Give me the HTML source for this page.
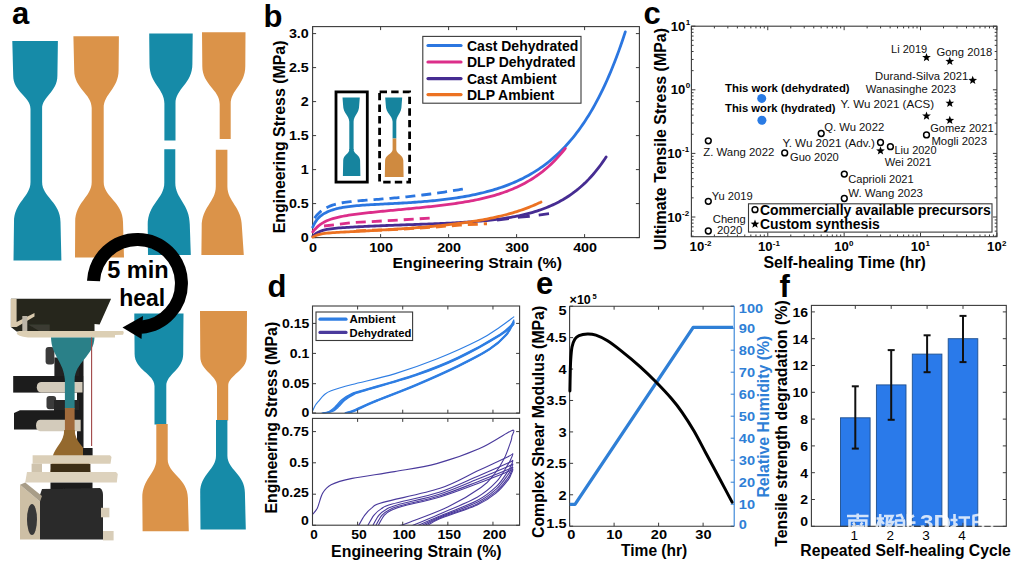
<!DOCTYPE html><html><head><meta charset="utf-8"><style>html,body{margin:0;padding:0;background:#fff;overflow:hidden}svg{display:block}</style></head><body>
<svg width="1018" height="570" viewBox="0 0 1018 570" font-family='"Liberation Sans", sans-serif'>
<defs><filter id="soft" x="-5%" y="-5%" width="110%" height="110%"><feGaussianBlur stdDeviation="0.45"/></filter></defs>
<rect width="1018" height="570" fill="#fff"/>
<text x="12.0" y="24.0" font-size="31" font-weight="bold" >a</text>
<g filter="url(#soft)">
<path d="M12.3,40.9 L57.9,40.9 L57.4,75.6 C57.4,92.30 42.1,96.31 42.1,109 L42.1,152 L30.5,152 L30.5,109 C30.5,96.31 13.2,92.30 13.2,75.6 Z M30.5,146 L42.1,146 L42.1,182 C42.1,197.20 60.5,202.00 60.5,222 L61.4,260.6 L13.5,260.6 L14,222 C14,202.00 30.5,197.20 30.5,182 Z" fill="#168ba8" />
<path d="M73.4,36.2 L118.9,36.2 L118.6,70 C118.6,89.00 103.7,93.56 103.7,108 L103.7,152 L91.7,152 L91.7,108 C91.7,93.56 74.2,89.00 74.2,70 Z M91.7,146 L103.7,146 L103.7,182 C103.7,197.20 123,202.00 123,222 L124,257.6 L75,257.6 L75.2,222 C75.2,202.00 91.7,197.20 91.7,182 Z" fill="#db9349" />
<path d="M149.2,33.5 L192.7,33.5 L192.4,64 C192.4,83.75 175.5,88.49 175.5,103.5 L175.5,140.4 L164.4,140.4 L164.4,103.5 C164.4,88.49 149.5,83.75 149.5,64 Z" fill="#168ba8" />
<path d="M164.3,149.3 L175.3,149.3 L175.3,182.8 C175.3,198.84 189.8,203.90 189.8,225 L190.8,255.1 L148,255.1 L147.7,225 C147.7,203.90 164.3,198.84 164.3,182.8 Z" fill="#168ba8" />
<path d="M202,32.3 L245.5,32.3 L245.3,66 C245.3,85.00 230.7,89.56 230.7,104 L230.7,139 L219.7,139 L219.7,104 C219.7,89.56 202.3,85.00 202.3,66 Z" fill="#db9349" />
<path d="M215.8,149.8 L227.4,149.8 L227.4,186.6 C227.4,201.95 241.9,206.80 241.9,227 L243.8,255.1 L201.4,255.1 L201.7,227 C201.7,206.80 215.8,201.95 215.8,186.6 Z" fill="#db9349" />
<path d="M134.3,313.5 L183.5,313.5 L183.2,354 C183.2,370.00 166.3,373.84 166.3,386 L166.3,424.5 L154.5,424.5 L154.5,386 C154.5,373.84 134.6,370.00 134.6,354 Z" fill="#168ba8" />
<path d="M156.3,424 L167.7,424 L167.7,459.3 C167.7,473.97 187.9,478.60 187.9,497.9 L188.8,531.2 L142.6,531.2 L142.3,497.9 C142.3,478.60 156.3,473.97 156.3,459.3 Z" fill="#db9349" />
<path d="M200,311 L247,311 L246.7,356.5 C246.7,371.25 228.2,374.79 228.2,386 L228.2,420.5 L217,420.5 L217,386 C217,374.79 200.3,371.25 200.3,356.5 Z" fill="#db9349" />
<path d="M216,420 L227.4,420 L227.4,455.8 C227.4,469.78 244.9,474.20 244.9,492.6 L245.8,529.5 L200.5,529.5 L200.2,492.6 C200.2,474.20 216,469.78 216,455.8 Z" fill="#168ba8" />
</g>
<g filter="url(#soft)">
<path d="M10.9,298.7 L111.1,298.7 L99.6,324.5 L94.5,324 L94.5,331.5 L16.6,331.5 L10.9,327 Z" fill="#25261d"/>
<path d="M10.9,298.7 L16.6,298.7 L16.6,322 L34.5,313 L34.5,316.5 L16.6,327 L10.9,327 Z" fill="#d8c9ad"/>
<rect x="22.3" y="316" width="5" height="15.5" fill="#bdb6a8"/>
<path d="M28,324.5 L49.8,324.5 L49.8,331.5 L40,331.5 Z" fill="#3a3a30"/>
<path d="M19,331.1 L123.2,331.1 Q124.5,333 123,334.7 L115,334.9 L115,337.5 L28,337.5 Q17,336 16.6,333 Z" fill="#dccfb4"/>
<rect x="77" y="352" width="6.5" height="104" fill="#1c1c1c"/>
<rect x="54.4" y="357.5" width="25" height="20" fill="#222"/>
<rect x="45.6" y="347" width="8.8" height="17.6" rx="3" fill="#3b3b3b"/>
<rect x="13.2" y="376" width="70" height="16.6" fill="#1c1c1c"/>
<path d="M41,382.1 L82.5,382.1 L82.5,392.6 L41,392.6 Q36.8,392 36.8,387.3 Q36.8,382.5 41,382.1 Z" fill="#d3cbbb"/>
<rect x="46.5" y="396" width="9.6" height="13.3" rx="3" fill="#3a3a3a"/>
<rect x="54" y="400" width="25" height="12" fill="#262626"/>
<path d="M14,413 L20,410.2 L83,410.2 L83,429.5 L14,429.5 Z" fill="#1c1c1c"/>
<path d="M40,419.8 L80.7,419.8 L80.7,431.2 L40,431.2 Q36,430.5 36,425.5 Q36,420.3 40,419.8 Z" fill="#d3cbbb"/>
<path d="M51,337.5 L94.5,337.5 C94,356 75,362 74.6,380 L74.6,409 L64.9,409 L64.9,380 C64,362 51.5,356 51,337.5 Z" fill="#2a8088"/>
<path d="M64.9,408 L74.6,408 L74.6,432 L64.9,432 Z" fill="#a06a3a"/>
<path d="M64.2,430 L74.7,430 C75,442 84,446 88.3,456.3 L90.4,472 L50.5,472 L52.6,456.3 C56,446 64,442 64.2,430 Z" fill="#94692e"/>
<path d="M50.5,463.7 L90.4,463.7 L90.4,472 L50.5,472 Z" fill="#3e2f16"/>
<rect x="83" y="448" width="9.6" height="8.3" fill="#1c1c1c"/>
<line x1="91.6" y1="337.5" x2="91.6" y2="446" stroke="#a04848" stroke-width="1.1"/>
<path d="M32.6,455.2 L110,455.2 L111.5,457 L110.5,463.7 L32.6,463.7 Z" fill="#dbcfb8"/>
<rect x="31.6" y="463.7" width="10.4" height="8.3" fill="#cfc3ad"/>
<path d="M27,472 L116,472 L117.8,474 L116.8,482.6 L25.2,482.6 Z" fill="#ddd2bd"/>
<rect x="50.5" y="482.6" width="42" height="8.4" fill="#1a1a1a"/>
<path d="M42,489 L100,488 Q103,490 103,495 L103,539.4 L40,539.4 L40,495 Z" fill="#2b2b2b"/>
<path d="M20,484.7 L40,501.5 L40,539.4 L20,539.4 Z" fill="#cdbfa5"/>
<path d="M20,484.7 L25.2,482.6 L42,496 L40,501.5 Z" fill="#a89d88"/>
<ellipse cx="32" cy="519.5" rx="5" ry="15.5" fill="#383838"/>
<rect x="101" y="507.8" width="8.4" height="9.5" fill="#d8cdb8"/>
<rect x="103" y="531" width="10.6" height="9.4" fill="#d8cdb8"/>
</g>
<path d="M93.5,281 A44,44 0 1 1 141,327.3" fill="none" stroke="#000" stroke-width="13"/>
<path d="M122.5,327.4 L143,316 L141.5,339 Z" fill="#000"/>
<text x="107.2" y="277.6" font-size="23" font-weight="bold" textLength="61.5" lengthAdjust="spacingAndGlyphs" >5 min</text>
<text x="119.2" y="306.0" font-size="23" font-weight="bold" textLength="46.0" lengthAdjust="spacingAndGlyphs" >heal</text>
<text x="263.6" y="27.0" font-size="31" font-weight="bold" >b</text>
<g>
<line x1="312.6" y1="237.60" x2="316.1" y2="237.60" stroke="#3a3a3a" stroke-width="1"/>
<line x1="639.4" y1="237.60" x2="635.9" y2="237.60" stroke="#3a3a3a" stroke-width="1"/>
<line x1="312.6" y1="203.60" x2="316.1" y2="203.60" stroke="#3a3a3a" stroke-width="1"/>
<line x1="639.4" y1="203.60" x2="635.9" y2="203.60" stroke="#3a3a3a" stroke-width="1"/>
<line x1="312.6" y1="169.60" x2="316.1" y2="169.60" stroke="#3a3a3a" stroke-width="1"/>
<line x1="639.4" y1="169.60" x2="635.9" y2="169.60" stroke="#3a3a3a" stroke-width="1"/>
<line x1="312.6" y1="135.60" x2="316.1" y2="135.60" stroke="#3a3a3a" stroke-width="1"/>
<line x1="639.4" y1="135.60" x2="635.9" y2="135.60" stroke="#3a3a3a" stroke-width="1"/>
<line x1="312.6" y1="101.60" x2="316.1" y2="101.60" stroke="#3a3a3a" stroke-width="1"/>
<line x1="639.4" y1="101.60" x2="635.9" y2="101.60" stroke="#3a3a3a" stroke-width="1"/>
<line x1="312.6" y1="67.60" x2="316.1" y2="67.60" stroke="#3a3a3a" stroke-width="1"/>
<line x1="639.4" y1="67.60" x2="635.9" y2="67.60" stroke="#3a3a3a" stroke-width="1"/>
<line x1="312.6" y1="33.60" x2="316.1" y2="33.60" stroke="#3a3a3a" stroke-width="1"/>
<line x1="639.4" y1="33.60" x2="635.9" y2="33.60" stroke="#3a3a3a" stroke-width="1"/>
<line x1="312.60" y1="237.6" x2="312.60" y2="234.1" stroke="#3a3a3a" stroke-width="1"/>
<line x1="312.60" y1="26.6" x2="312.60" y2="30.1" stroke="#3a3a3a" stroke-width="1"/>
<line x1="380.60" y1="237.6" x2="380.60" y2="234.1" stroke="#3a3a3a" stroke-width="1"/>
<line x1="380.60" y1="26.6" x2="380.60" y2="30.1" stroke="#3a3a3a" stroke-width="1"/>
<line x1="448.60" y1="237.6" x2="448.60" y2="234.1" stroke="#3a3a3a" stroke-width="1"/>
<line x1="448.60" y1="26.6" x2="448.60" y2="30.1" stroke="#3a3a3a" stroke-width="1"/>
<line x1="516.60" y1="237.6" x2="516.60" y2="234.1" stroke="#3a3a3a" stroke-width="1"/>
<line x1="516.60" y1="26.6" x2="516.60" y2="30.1" stroke="#3a3a3a" stroke-width="1"/>
<line x1="584.60" y1="237.6" x2="584.60" y2="234.1" stroke="#3a3a3a" stroke-width="1"/>
<line x1="584.60" y1="26.6" x2="584.60" y2="30.1" stroke="#3a3a3a" stroke-width="1"/>
<rect x="312.6" y="26.6" width="326.80" height="211.00" fill="none" stroke="#3a3a3a" stroke-width="1.1"/>
</g>
<text x="308.8" y="38.1" font-size="13" font-weight="bold" text-anchor="end" textLength="19.9" lengthAdjust="spacingAndGlyphs" >3.0</text>
<text x="308.8" y="72.1" font-size="13" font-weight="bold" text-anchor="end" textLength="19.9" lengthAdjust="spacingAndGlyphs" >2.5</text>
<text x="308.8" y="106.1" font-size="13" font-weight="bold" text-anchor="end" textLength="8.0" lengthAdjust="spacingAndGlyphs" >2</text>
<text x="308.8" y="140.1" font-size="13" font-weight="bold" text-anchor="end" textLength="19.9" lengthAdjust="spacingAndGlyphs" >1.5</text>
<text x="308.8" y="174.1" font-size="13" font-weight="bold" text-anchor="end" textLength="8.0" lengthAdjust="spacingAndGlyphs" >1</text>
<text x="308.8" y="208.1" font-size="13" font-weight="bold" text-anchor="end" textLength="19.9" lengthAdjust="spacingAndGlyphs" >0.5</text>
<text x="308.8" y="242.1" font-size="13" font-weight="bold" text-anchor="end" textLength="8.0" lengthAdjust="spacingAndGlyphs" >0</text>
<text x="313.1" y="251.8" font-size="13" font-weight="bold" text-anchor="middle" textLength="8.0" lengthAdjust="spacingAndGlyphs" >0</text>
<text x="381.1" y="251.8" font-size="13" font-weight="bold" text-anchor="middle" textLength="23.9" lengthAdjust="spacingAndGlyphs" >100</text>
<text x="449.1" y="251.8" font-size="13" font-weight="bold" text-anchor="middle" textLength="23.9" lengthAdjust="spacingAndGlyphs" >200</text>
<text x="517.1" y="251.8" font-size="13" font-weight="bold" text-anchor="middle" textLength="23.9" lengthAdjust="spacingAndGlyphs" >300</text>
<text x="585.1" y="251.8" font-size="13" font-weight="bold" text-anchor="middle" textLength="23.9" lengthAdjust="spacingAndGlyphs" >400</text>
<text x="392.5" y="268.0" font-size="15.5" font-weight="bold" textLength="169.4" lengthAdjust="spacingAndGlyphs" >Engineering Strain (%)</text>
<text x="285.0" y="233.3" font-size="15.8" font-weight="bold" textLength="192.8" lengthAdjust="spacingAndGlyphs" transform="rotate(-90 285.0 233.3)" >Engineering Stress (MPa)</text>
<polyline points="312.80,236.24 314.80,234.41 316.80,233.01 318.80,231.93 320.80,231.09 322.80,230.42 324.80,229.89 326.80,229.46 328.80,229.11 330.80,228.82 332.80,228.57 334.80,228.35 336.80,228.16 338.80,227.98 340.80,227.83 342.80,227.68 344.80,227.54 346.80,227.42 348.80,227.29 350.80,227.18 352.80,227.06 354.80,226.96 356.80,226.85 358.80,226.75 360.80,226.65 362.80,226.55 364.80,226.45 366.80,226.36 368.80,226.27 370.80,226.18 372.80,226.09 374.80,226.00 376.80,225.92 378.80,225.84 380.80,225.75 382.80,225.67 384.80,225.59 386.80,225.51 388.80,225.44 390.80,225.36 392.80,225.28 394.80,225.21 396.80,225.14 398.80,225.06 400.80,224.99 402.80,224.92 404.80,224.84 406.80,224.77 408.80,224.70 410.80,224.63 412.80,224.56 414.80,224.49 416.80,224.42 418.80,224.34 420.80,224.27 422.80,224.20 424.80,224.12 426.80,224.05 428.80,223.97 430.80,223.90 432.80,223.82 434.80,223.74 436.80,223.66 438.80,223.58 440.80,223.49 442.80,223.40 444.80,223.31 446.80,223.22 448.80,223.13 450.80,223.03 452.80,222.93 454.80,222.83 456.80,222.72 458.80,222.61 460.80,222.50 462.80,222.38 464.80,222.25 466.80,222.12 468.80,221.99 470.80,221.85 472.80,221.70 474.80,221.55 476.80,221.40 478.80,221.23 480.80,221.06 482.80,220.88 484.80,220.69 486.80,220.49 488.80,220.29 490.80,220.07 492.80,219.85 494.80,219.61 496.80,219.37 498.80,219.11 500.80,218.84 502.80,218.56 504.80,218.26 506.80,217.95 508.80,217.63 510.80,217.29 512.80,216.93 514.80,216.56 516.80,216.17 518.80,215.76 520.80,215.33 522.80,214.88 524.80,214.41 526.80,213.91 528.80,213.40 530.80,212.85 532.80,212.29 534.80,211.69 536.80,211.07 538.80,210.41 540.80,209.73 542.80,209.01 544.80,208.26 546.80,207.48 548.80,206.66 550.80,205.80 552.80,204.89 554.80,203.95 556.80,202.96 558.80,201.92 560.80,200.84 562.80,199.71 564.80,198.52 566.80,197.28 568.80,195.97 570.80,194.61 572.80,193.19 574.80,191.70 576.80,190.14 578.80,188.50 580.80,186.80 582.80,185.01 584.80,183.14 586.80,181.18 588.80,179.14 590.80,176.99 592.80,174.76 594.80,172.41 596.80,169.96 598.80,167.40 600.80,164.72 602.80,161.92 604.80,158.99 606.10,157.02" fill="none" stroke="#462c92" stroke-width="2.8" stroke-linecap="round" stroke-linejoin="round"/>
<polyline points="312.80,237.13 314.80,236.02 316.80,235.19 318.80,234.57 320.80,234.09 322.80,233.73 324.80,233.43 326.80,233.20 328.80,233.00 330.80,232.84 332.80,232.69 334.80,232.56 336.80,232.44 338.80,232.32 340.80,232.21 342.80,232.11 344.80,232.00 346.80,231.90 348.80,231.80 350.80,231.70 352.80,231.60 354.80,231.50 356.80,231.39 358.80,231.29 360.80,231.19 362.80,231.08 364.80,230.98 366.80,230.87 368.80,230.76 370.80,230.65 372.80,230.54 374.80,230.43 376.80,230.32 378.80,230.21 380.80,230.09 382.80,229.97 384.80,229.85 386.80,229.73 388.80,229.61 390.80,229.49 392.80,229.36 394.80,229.23 396.80,229.10 398.80,228.97 400.80,228.84 402.80,228.70 404.80,228.56 406.80,228.42 408.80,228.28 410.80,228.13 412.80,227.98 414.80,227.83 416.80,227.68 418.80,227.52 420.80,227.36 422.80,227.19 424.80,227.02 426.80,226.85 428.80,226.68 430.80,226.50 432.80,226.31 434.80,226.12 436.80,225.93 438.80,225.74 440.80,225.53 442.80,225.33 444.80,225.12 446.80,224.90 448.80,224.68 450.80,224.45 452.80,224.21 454.80,223.97 456.80,223.73 458.80,223.47 460.80,223.21 462.80,222.94 464.80,222.67 466.80,222.38 468.80,222.09 470.80,221.79 472.80,221.48 474.80,221.17 476.80,220.84 478.80,220.50 480.80,220.15 482.80,219.79 484.80,219.42 486.80,219.04 488.80,218.65 490.80,218.24 492.80,217.82 494.80,217.39 496.80,216.94 498.80,216.48 500.80,216.01 502.80,215.51 504.80,215.00 506.80,214.48 508.80,213.93 510.80,213.37 512.80,212.79 514.80,212.19 516.80,211.57 518.80,210.92 520.80,210.26 522.80,209.57 524.80,208.85 526.80,208.12 528.80,207.35 530.80,206.56 532.80,205.74 534.80,204.89 536.80,204.01 538.80,203.09 540.80,202.15 541.00,202.05" fill="none" stroke="#ec7222" stroke-width="2.8" stroke-linecap="round" stroke-linejoin="round"/>
<polyline points="312.80,227.00 314.80,222.87 316.80,219.87 318.80,217.60 320.80,215.81 322.80,214.37 324.80,213.16 326.80,212.14 328.80,211.26 330.80,210.50 332.80,209.83 334.80,209.24 336.80,208.71 338.80,208.24 340.80,207.83 342.80,207.46 344.80,207.12 346.80,206.82 348.80,206.55 350.80,206.30 352.80,206.08 354.80,205.88 356.80,205.69 358.80,205.52 360.80,205.36 362.80,205.21 364.80,205.07 366.80,204.94 368.80,204.82 370.80,204.70 372.80,204.59 374.80,204.48 376.80,204.38 378.80,204.28 380.80,204.17 382.80,204.07 384.80,203.97 386.80,203.87 388.80,203.77 390.80,203.67 392.80,203.57 394.80,203.46 396.80,203.36 398.80,203.25 400.80,203.14 402.80,203.02 404.80,202.90 406.80,202.78 408.80,202.66 410.80,202.53 412.80,202.39 414.80,202.26 416.80,202.11 418.80,201.96 420.80,201.81 422.80,201.65 424.80,201.48 426.80,201.31 428.80,201.13 430.80,200.95 432.80,200.76 434.80,200.56 436.80,200.35 438.80,200.14 440.80,199.92 442.80,199.69 444.80,199.45 446.80,199.20 448.80,198.94 450.80,198.67 452.80,198.40 454.80,198.11 456.80,197.81 458.80,197.50 460.80,197.18 462.80,196.84 464.80,196.50 466.80,196.14 468.80,195.77 470.80,195.38 472.80,194.98 474.80,194.56 476.80,194.13 478.80,193.68 480.80,193.22 482.80,192.74 484.80,192.24 486.80,191.72 488.80,191.19 490.80,190.63 492.80,190.05 494.80,189.46 496.80,188.84 498.80,188.19 500.80,187.53 502.80,186.84 504.80,186.12 506.80,185.38 508.80,184.61 510.80,183.81 512.80,182.99 514.80,182.13 516.80,181.24 518.80,180.32 520.80,179.37 522.80,178.38 524.80,177.35 526.80,176.29 528.80,175.19 530.80,174.05 532.80,172.87 534.80,171.64 536.80,170.37 538.80,169.06 540.80,167.70 542.80,166.28 544.80,164.82 546.80,163.30 548.80,161.73 550.80,160.10 552.80,158.42 554.80,156.67 556.80,154.86 558.80,152.98 560.80,151.04 562.80,149.02 564.80,146.93 566.80,144.77 568.80,142.53 570.80,140.21 572.80,137.80 574.80,135.31 576.80,132.73 578.80,130.05 580.80,127.28 582.80,124.41 584.80,121.43 586.80,118.35 588.80,115.16 590.80,111.85 592.80,108.42 594.80,104.87 596.80,101.19 598.80,97.38 600.80,93.44 602.80,89.35 604.80,85.11 606.80,80.72 608.80,76.18 610.80,71.47 612.80,66.59 614.80,61.53 616.80,56.29 618.80,50.87 620.80,45.25 622.80,39.43 624.80,33.40 625.30,31.87" fill="none" stroke="#2b76e0" stroke-width="2.8" stroke-linecap="round" stroke-linejoin="round"/>
<polyline points="312.80,231.93 314.80,229.48 316.80,227.41 318.80,225.66 320.80,224.16 322.80,222.89 324.80,221.78 326.80,220.83 328.80,220.00 330.80,219.27 332.80,218.63 334.80,218.05 336.80,217.54 338.80,217.07 340.80,216.64 342.80,216.25 344.80,215.89 346.80,215.55 348.80,215.24 350.80,214.94 352.80,214.65 354.80,214.38 356.80,214.12 358.80,213.87 360.80,213.62 362.80,213.38 364.80,213.15 366.80,212.93 368.80,212.71 370.80,212.49 372.80,212.28 374.80,212.07 376.80,211.86 378.80,211.66 380.80,211.46 382.80,211.26 384.80,211.06 386.80,210.87 388.80,210.67 390.80,210.48 392.80,210.29 394.80,210.10 396.80,209.91 398.80,209.72 400.80,209.52 402.80,209.33 404.80,209.14 406.80,208.95 408.80,208.76 410.80,208.57 412.80,208.37 414.80,208.18 416.80,207.98 418.80,207.78 420.80,207.58 422.80,207.37 424.80,207.17 426.80,206.96 428.80,206.75 430.80,206.53 432.80,206.31 434.80,206.09 436.80,205.86 438.80,205.63 440.80,205.39 442.80,205.15 444.80,204.90 446.80,204.64 448.80,204.38 450.80,204.11 452.80,203.84 454.80,203.55 456.80,203.26 458.80,202.96 460.80,202.65 462.80,202.33 464.80,201.99 466.80,201.65 468.80,201.30 470.80,200.93 472.80,200.55 474.80,200.16 476.80,199.75 478.80,199.32 480.80,198.89 482.80,198.43 484.80,197.96 486.80,197.46 488.80,196.95 490.80,196.42 492.80,195.87 494.80,195.30 496.80,194.70 498.80,194.08 500.80,193.43 502.80,192.75 504.80,192.05 506.80,191.32 508.80,190.56 510.80,189.76 512.80,188.94 514.80,188.07 516.80,187.17 518.80,186.24 520.80,185.26 522.80,184.24 524.80,183.18 526.80,182.07 528.80,180.91 530.80,179.71 532.80,178.45 534.80,177.14 536.80,175.77 538.80,174.34 540.80,172.85 542.80,171.30 544.80,169.67 546.80,167.98 548.80,166.22 550.80,164.38 552.80,162.45 554.80,160.45 556.80,158.36 558.80,156.17 560.80,153.90 562.80,151.52 564.80,149.04 565.30,148.41" fill="none" stroke="#dc2e8a" stroke-width="2.8" stroke-linecap="round" stroke-linejoin="round"/>
<polyline points="314.50,218.06 316.50,215.57 318.50,213.46 320.50,211.65 322.50,210.11 324.50,208.80 326.50,207.67 328.50,206.70 330.50,205.87 332.50,205.15 334.50,204.53 336.50,203.99 338.50,203.52 340.50,203.11 342.50,202.75 344.50,202.42 346.50,202.14 348.50,201.88 350.50,201.64 352.50,201.42 354.50,201.22 356.50,201.03 358.50,200.85 360.50,200.68 362.50,200.52 364.50,200.36 366.50,200.21 368.50,200.05 370.50,199.90 372.50,199.75 374.50,199.60 376.50,199.44 378.50,199.29 380.50,199.13 382.50,198.97 384.50,198.81 386.50,198.65 388.50,198.48 390.50,198.31 392.50,198.14 394.50,197.96 396.50,197.77 398.50,197.59 400.50,197.40 402.50,197.20 404.50,197.00 406.50,196.80 408.50,196.59 410.50,196.38 412.50,196.16 414.50,195.94 416.50,195.72 418.50,195.49 420.50,195.25 422.50,195.01 424.50,194.76 426.50,194.51 428.50,194.26 430.50,194.00 432.50,193.73 434.50,193.46 436.50,193.19 438.50,192.91 440.50,192.62 442.50,192.33 444.50,192.03 446.50,191.73 448.50,191.43 450.50,191.12 452.50,190.80 454.50,190.48 456.50,190.15 458.50,189.81 460.50,189.47 462.50,189.13 464.50,188.78 466.50,188.42 467.00,188.33" fill="none" stroke="#2b76e0" stroke-width="2.8" stroke-linecap="butt" stroke-linejoin="round" stroke-dasharray="10,6"/>
<polyline points="324,226 351.7,222.6 393.5,220.4 432,218" fill="none" stroke="#dc2e8a" stroke-width="2.8" stroke-dasharray="10,6"/>
<polyline points="356,231 393,229.5 426.9,227.6 460,225 487,223.7" fill="none" stroke="#ec7222" stroke-width="3" stroke-dasharray="10,6"/>
<polyline points="497,220 520,217.2 532.5,216 549,213.7" fill="none" stroke="#462c92" stroke-width="2.8" stroke-dasharray="12,9"/>
<rect x="422.8" y="36.4" width="158.2" height="66.8" fill="#fff" stroke="#3a3a3a" stroke-width="1.1"/>
<line x1="428" y1="45.5" x2="461" y2="45.5" stroke="#2b76e0" stroke-width="3.2" stroke-linecap="round"/>
<text x="467.0" y="50.5" font-size="14" font-weight="bold" >Cast Dehydrated</text>
<line x1="428" y1="62" x2="461" y2="62" stroke="#dc2e8a" stroke-width="3.2" stroke-linecap="round"/>
<text x="467.0" y="67.0" font-size="14" font-weight="bold" >DLP Dehydrated</text>
<line x1="428" y1="78.6" x2="461" y2="78.6" stroke="#462c92" stroke-width="3.2" stroke-linecap="round"/>
<text x="467.0" y="83.6" font-size="14" font-weight="bold" >Cast Ambient</text>
<line x1="428" y1="94.6" x2="461" y2="94.6" stroke="#ec7222" stroke-width="3.2" stroke-linecap="round"/>
<text x="467.0" y="99.6" font-size="14" font-weight="bold" >DLP Ambient</text>
<rect x="336" y="91.9" width="31.3" height="90.2" fill="none" stroke="#000" stroke-width="2.8"/>
<rect x="379.6" y="91.9" width="30" height="90.2" fill="none" stroke="#000" stroke-width="2.8" stroke-dasharray="7.4,4.2"/>
<path d="M342.5,97.5 L359.8,97.5 L359.2,105.2 C359.2,113.50 353.6,115.49 353.6,121.8 L353.6,150 L349.3,150 L349.3,121.8 C349.3,115.49 343.1,113.50 343.1,105.2 Z" fill="#16849e"/>
<path d="M349.3,149 L353.6,149 L353.6,149.4 C353.6,153.62 360.09999999999997,154.95 360.09999999999997,160.5 L360.4,176.1 L342.9,176.1 L343.2,160.5 C343.2,154.95 349.3,153.62 349.3,149.4 Z" fill="#16849e"/>
<path d="M385.2,97.5 L402.2,97.5 L401.59999999999997,105.2 C401.59999999999997,113.50 396.3,115.49 396.3,121.8 L396.3,138.4 L392.6,138.4 L392.6,121.8 C392.6,115.49 385.8,113.50 385.8,105.2 Z" fill="#16849e"/>
<path d="M392.6,138.4 L396.3,138.4 L396.3,149.4 C396.3,153.62 403.3,154.95 403.3,160.5 L403.6,177 L384.8,177 L385.1,160.5 C385.1,154.95 392.6,153.62 392.6,149.4 Z" fill="#cf8a40"/>
<text x="643.5" y="24.2" font-size="31" font-weight="bold" >c</text>
<line x1="691.4" y1="26.20" x2="695.4" y2="26.20" stroke="#3a3a3a" stroke-width="1"/>
<line x1="996.9" y1="26.20" x2="992.9" y2="26.20" stroke="#3a3a3a" stroke-width="1"/>
<line x1="691.4" y1="89.80" x2="695.4" y2="89.80" stroke="#3a3a3a" stroke-width="1"/>
<line x1="996.9" y1="89.80" x2="992.9" y2="89.80" stroke="#3a3a3a" stroke-width="1"/>
<line x1="691.4" y1="153.40" x2="695.4" y2="153.40" stroke="#3a3a3a" stroke-width="1"/>
<line x1="996.9" y1="153.40" x2="992.9" y2="153.40" stroke="#3a3a3a" stroke-width="1"/>
<line x1="691.4" y1="217.00" x2="695.4" y2="217.00" stroke="#3a3a3a" stroke-width="1"/>
<line x1="996.9" y1="217.00" x2="992.9" y2="217.00" stroke="#3a3a3a" stroke-width="1"/>
<line x1="691.4" y1="236.15" x2="693.6" y2="236.15" stroke="#3a3a3a" stroke-width="1"/>
<line x1="996.9" y1="236.15" x2="994.6999999999999" y2="236.15" stroke="#3a3a3a" stroke-width="1"/>
<line x1="691.4" y1="231.11" x2="693.6" y2="231.11" stroke="#3a3a3a" stroke-width="1"/>
<line x1="996.9" y1="231.11" x2="994.6999999999999" y2="231.11" stroke="#3a3a3a" stroke-width="1"/>
<line x1="691.4" y1="226.85" x2="693.6" y2="226.85" stroke="#3a3a3a" stroke-width="1"/>
<line x1="996.9" y1="226.85" x2="994.6999999999999" y2="226.85" stroke="#3a3a3a" stroke-width="1"/>
<line x1="691.4" y1="223.16" x2="693.6" y2="223.16" stroke="#3a3a3a" stroke-width="1"/>
<line x1="996.9" y1="223.16" x2="994.6999999999999" y2="223.16" stroke="#3a3a3a" stroke-width="1"/>
<line x1="691.4" y1="219.91" x2="693.6" y2="219.91" stroke="#3a3a3a" stroke-width="1"/>
<line x1="996.9" y1="219.91" x2="994.6999999999999" y2="219.91" stroke="#3a3a3a" stroke-width="1"/>
<line x1="691.4" y1="197.85" x2="693.6" y2="197.85" stroke="#3a3a3a" stroke-width="1"/>
<line x1="996.9" y1="197.85" x2="994.6999999999999" y2="197.85" stroke="#3a3a3a" stroke-width="1"/>
<line x1="691.4" y1="186.66" x2="693.6" y2="186.66" stroke="#3a3a3a" stroke-width="1"/>
<line x1="996.9" y1="186.66" x2="994.6999999999999" y2="186.66" stroke="#3a3a3a" stroke-width="1"/>
<line x1="691.4" y1="178.71" x2="693.6" y2="178.71" stroke="#3a3a3a" stroke-width="1"/>
<line x1="996.9" y1="178.71" x2="994.6999999999999" y2="178.71" stroke="#3a3a3a" stroke-width="1"/>
<line x1="691.4" y1="172.55" x2="693.6" y2="172.55" stroke="#3a3a3a" stroke-width="1"/>
<line x1="996.9" y1="172.55" x2="994.6999999999999" y2="172.55" stroke="#3a3a3a" stroke-width="1"/>
<line x1="691.4" y1="167.51" x2="693.6" y2="167.51" stroke="#3a3a3a" stroke-width="1"/>
<line x1="996.9" y1="167.51" x2="994.6999999999999" y2="167.51" stroke="#3a3a3a" stroke-width="1"/>
<line x1="691.4" y1="163.25" x2="693.6" y2="163.25" stroke="#3a3a3a" stroke-width="1"/>
<line x1="996.9" y1="163.25" x2="994.6999999999999" y2="163.25" stroke="#3a3a3a" stroke-width="1"/>
<line x1="691.4" y1="159.56" x2="693.6" y2="159.56" stroke="#3a3a3a" stroke-width="1"/>
<line x1="996.9" y1="159.56" x2="994.6999999999999" y2="159.56" stroke="#3a3a3a" stroke-width="1"/>
<line x1="691.4" y1="156.31" x2="693.6" y2="156.31" stroke="#3a3a3a" stroke-width="1"/>
<line x1="996.9" y1="156.31" x2="994.6999999999999" y2="156.31" stroke="#3a3a3a" stroke-width="1"/>
<line x1="691.4" y1="134.25" x2="693.6" y2="134.25" stroke="#3a3a3a" stroke-width="1"/>
<line x1="996.9" y1="134.25" x2="994.6999999999999" y2="134.25" stroke="#3a3a3a" stroke-width="1"/>
<line x1="691.4" y1="123.06" x2="693.6" y2="123.06" stroke="#3a3a3a" stroke-width="1"/>
<line x1="996.9" y1="123.06" x2="994.6999999999999" y2="123.06" stroke="#3a3a3a" stroke-width="1"/>
<line x1="691.4" y1="115.11" x2="693.6" y2="115.11" stroke="#3a3a3a" stroke-width="1"/>
<line x1="996.9" y1="115.11" x2="994.6999999999999" y2="115.11" stroke="#3a3a3a" stroke-width="1"/>
<line x1="691.4" y1="108.95" x2="693.6" y2="108.95" stroke="#3a3a3a" stroke-width="1"/>
<line x1="996.9" y1="108.95" x2="994.6999999999999" y2="108.95" stroke="#3a3a3a" stroke-width="1"/>
<line x1="691.4" y1="103.91" x2="693.6" y2="103.91" stroke="#3a3a3a" stroke-width="1"/>
<line x1="996.9" y1="103.91" x2="994.6999999999999" y2="103.91" stroke="#3a3a3a" stroke-width="1"/>
<line x1="691.4" y1="99.65" x2="693.6" y2="99.65" stroke="#3a3a3a" stroke-width="1"/>
<line x1="996.9" y1="99.65" x2="994.6999999999999" y2="99.65" stroke="#3a3a3a" stroke-width="1"/>
<line x1="691.4" y1="95.96" x2="693.6" y2="95.96" stroke="#3a3a3a" stroke-width="1"/>
<line x1="996.9" y1="95.96" x2="994.6999999999999" y2="95.96" stroke="#3a3a3a" stroke-width="1"/>
<line x1="691.4" y1="92.71" x2="693.6" y2="92.71" stroke="#3a3a3a" stroke-width="1"/>
<line x1="996.9" y1="92.71" x2="994.6999999999999" y2="92.71" stroke="#3a3a3a" stroke-width="1"/>
<line x1="691.4" y1="70.65" x2="693.6" y2="70.65" stroke="#3a3a3a" stroke-width="1"/>
<line x1="996.9" y1="70.65" x2="994.6999999999999" y2="70.65" stroke="#3a3a3a" stroke-width="1"/>
<line x1="691.4" y1="59.46" x2="693.6" y2="59.46" stroke="#3a3a3a" stroke-width="1"/>
<line x1="996.9" y1="59.46" x2="994.6999999999999" y2="59.46" stroke="#3a3a3a" stroke-width="1"/>
<line x1="691.4" y1="51.51" x2="693.6" y2="51.51" stroke="#3a3a3a" stroke-width="1"/>
<line x1="996.9" y1="51.51" x2="994.6999999999999" y2="51.51" stroke="#3a3a3a" stroke-width="1"/>
<line x1="691.4" y1="45.35" x2="693.6" y2="45.35" stroke="#3a3a3a" stroke-width="1"/>
<line x1="996.9" y1="45.35" x2="994.6999999999999" y2="45.35" stroke="#3a3a3a" stroke-width="1"/>
<line x1="691.4" y1="40.31" x2="693.6" y2="40.31" stroke="#3a3a3a" stroke-width="1"/>
<line x1="996.9" y1="40.31" x2="994.6999999999999" y2="40.31" stroke="#3a3a3a" stroke-width="1"/>
<line x1="691.4" y1="36.05" x2="693.6" y2="36.05" stroke="#3a3a3a" stroke-width="1"/>
<line x1="996.9" y1="36.05" x2="994.6999999999999" y2="36.05" stroke="#3a3a3a" stroke-width="1"/>
<line x1="691.4" y1="32.36" x2="693.6" y2="32.36" stroke="#3a3a3a" stroke-width="1"/>
<line x1="996.9" y1="32.36" x2="994.6999999999999" y2="32.36" stroke="#3a3a3a" stroke-width="1"/>
<line x1="691.4" y1="29.11" x2="693.6" y2="29.11" stroke="#3a3a3a" stroke-width="1"/>
<line x1="996.9" y1="29.11" x2="994.6999999999999" y2="29.11" stroke="#3a3a3a" stroke-width="1"/>
<line x1="691.40" y1="236.7" x2="691.40" y2="232.7" stroke="#3a3a3a" stroke-width="1"/>
<line x1="691.40" y1="26.2" x2="691.40" y2="30.2" stroke="#3a3a3a" stroke-width="1"/>
<line x1="767.77" y1="236.7" x2="767.77" y2="232.7" stroke="#3a3a3a" stroke-width="1"/>
<line x1="767.77" y1="26.2" x2="767.77" y2="30.2" stroke="#3a3a3a" stroke-width="1"/>
<line x1="844.15" y1="236.7" x2="844.15" y2="232.7" stroke="#3a3a3a" stroke-width="1"/>
<line x1="844.15" y1="26.2" x2="844.15" y2="30.2" stroke="#3a3a3a" stroke-width="1"/>
<line x1="920.52" y1="236.7" x2="920.52" y2="232.7" stroke="#3a3a3a" stroke-width="1"/>
<line x1="920.52" y1="26.2" x2="920.52" y2="30.2" stroke="#3a3a3a" stroke-width="1"/>
<line x1="996.90" y1="236.7" x2="996.90" y2="232.7" stroke="#3a3a3a" stroke-width="1"/>
<line x1="996.90" y1="26.2" x2="996.90" y2="30.2" stroke="#3a3a3a" stroke-width="1"/>
<line x1="714.39" y1="236.7" x2="714.39" y2="234.5" stroke="#3a3a3a" stroke-width="1"/>
<line x1="714.39" y1="26.2" x2="714.39" y2="28.4" stroke="#3a3a3a" stroke-width="1"/>
<line x1="727.84" y1="236.7" x2="727.84" y2="234.5" stroke="#3a3a3a" stroke-width="1"/>
<line x1="727.84" y1="26.2" x2="727.84" y2="28.4" stroke="#3a3a3a" stroke-width="1"/>
<line x1="737.38" y1="236.7" x2="737.38" y2="234.5" stroke="#3a3a3a" stroke-width="1"/>
<line x1="737.38" y1="26.2" x2="737.38" y2="28.4" stroke="#3a3a3a" stroke-width="1"/>
<line x1="744.78" y1="236.7" x2="744.78" y2="234.5" stroke="#3a3a3a" stroke-width="1"/>
<line x1="744.78" y1="26.2" x2="744.78" y2="28.4" stroke="#3a3a3a" stroke-width="1"/>
<line x1="750.83" y1="236.7" x2="750.83" y2="234.5" stroke="#3a3a3a" stroke-width="1"/>
<line x1="750.83" y1="26.2" x2="750.83" y2="28.4" stroke="#3a3a3a" stroke-width="1"/>
<line x1="755.94" y1="236.7" x2="755.94" y2="234.5" stroke="#3a3a3a" stroke-width="1"/>
<line x1="755.94" y1="26.2" x2="755.94" y2="28.4" stroke="#3a3a3a" stroke-width="1"/>
<line x1="760.37" y1="236.7" x2="760.37" y2="234.5" stroke="#3a3a3a" stroke-width="1"/>
<line x1="760.37" y1="26.2" x2="760.37" y2="28.4" stroke="#3a3a3a" stroke-width="1"/>
<line x1="764.28" y1="236.7" x2="764.28" y2="234.5" stroke="#3a3a3a" stroke-width="1"/>
<line x1="764.28" y1="26.2" x2="764.28" y2="28.4" stroke="#3a3a3a" stroke-width="1"/>
<line x1="790.77" y1="236.7" x2="790.77" y2="234.5" stroke="#3a3a3a" stroke-width="1"/>
<line x1="790.77" y1="26.2" x2="790.77" y2="28.4" stroke="#3a3a3a" stroke-width="1"/>
<line x1="804.22" y1="236.7" x2="804.22" y2="234.5" stroke="#3a3a3a" stroke-width="1"/>
<line x1="804.22" y1="26.2" x2="804.22" y2="28.4" stroke="#3a3a3a" stroke-width="1"/>
<line x1="813.76" y1="236.7" x2="813.76" y2="234.5" stroke="#3a3a3a" stroke-width="1"/>
<line x1="813.76" y1="26.2" x2="813.76" y2="28.4" stroke="#3a3a3a" stroke-width="1"/>
<line x1="821.16" y1="236.7" x2="821.16" y2="234.5" stroke="#3a3a3a" stroke-width="1"/>
<line x1="821.16" y1="26.2" x2="821.16" y2="28.4" stroke="#3a3a3a" stroke-width="1"/>
<line x1="827.21" y1="236.7" x2="827.21" y2="234.5" stroke="#3a3a3a" stroke-width="1"/>
<line x1="827.21" y1="26.2" x2="827.21" y2="28.4" stroke="#3a3a3a" stroke-width="1"/>
<line x1="832.32" y1="236.7" x2="832.32" y2="234.5" stroke="#3a3a3a" stroke-width="1"/>
<line x1="832.32" y1="26.2" x2="832.32" y2="28.4" stroke="#3a3a3a" stroke-width="1"/>
<line x1="836.75" y1="236.7" x2="836.75" y2="234.5" stroke="#3a3a3a" stroke-width="1"/>
<line x1="836.75" y1="26.2" x2="836.75" y2="28.4" stroke="#3a3a3a" stroke-width="1"/>
<line x1="840.66" y1="236.7" x2="840.66" y2="234.5" stroke="#3a3a3a" stroke-width="1"/>
<line x1="840.66" y1="26.2" x2="840.66" y2="28.4" stroke="#3a3a3a" stroke-width="1"/>
<line x1="867.14" y1="236.7" x2="867.14" y2="234.5" stroke="#3a3a3a" stroke-width="1"/>
<line x1="867.14" y1="26.2" x2="867.14" y2="28.4" stroke="#3a3a3a" stroke-width="1"/>
<line x1="880.59" y1="236.7" x2="880.59" y2="234.5" stroke="#3a3a3a" stroke-width="1"/>
<line x1="880.59" y1="26.2" x2="880.59" y2="28.4" stroke="#3a3a3a" stroke-width="1"/>
<line x1="890.13" y1="236.7" x2="890.13" y2="234.5" stroke="#3a3a3a" stroke-width="1"/>
<line x1="890.13" y1="26.2" x2="890.13" y2="28.4" stroke="#3a3a3a" stroke-width="1"/>
<line x1="897.53" y1="236.7" x2="897.53" y2="234.5" stroke="#3a3a3a" stroke-width="1"/>
<line x1="897.53" y1="26.2" x2="897.53" y2="28.4" stroke="#3a3a3a" stroke-width="1"/>
<line x1="903.58" y1="236.7" x2="903.58" y2="234.5" stroke="#3a3a3a" stroke-width="1"/>
<line x1="903.58" y1="26.2" x2="903.58" y2="28.4" stroke="#3a3a3a" stroke-width="1"/>
<line x1="908.69" y1="236.7" x2="908.69" y2="234.5" stroke="#3a3a3a" stroke-width="1"/>
<line x1="908.69" y1="26.2" x2="908.69" y2="28.4" stroke="#3a3a3a" stroke-width="1"/>
<line x1="913.12" y1="236.7" x2="913.12" y2="234.5" stroke="#3a3a3a" stroke-width="1"/>
<line x1="913.12" y1="26.2" x2="913.12" y2="28.4" stroke="#3a3a3a" stroke-width="1"/>
<line x1="917.03" y1="236.7" x2="917.03" y2="234.5" stroke="#3a3a3a" stroke-width="1"/>
<line x1="917.03" y1="26.2" x2="917.03" y2="28.4" stroke="#3a3a3a" stroke-width="1"/>
<line x1="943.52" y1="236.7" x2="943.52" y2="234.5" stroke="#3a3a3a" stroke-width="1"/>
<line x1="943.52" y1="26.2" x2="943.52" y2="28.4" stroke="#3a3a3a" stroke-width="1"/>
<line x1="956.97" y1="236.7" x2="956.97" y2="234.5" stroke="#3a3a3a" stroke-width="1"/>
<line x1="956.97" y1="26.2" x2="956.97" y2="28.4" stroke="#3a3a3a" stroke-width="1"/>
<line x1="966.51" y1="236.7" x2="966.51" y2="234.5" stroke="#3a3a3a" stroke-width="1"/>
<line x1="966.51" y1="26.2" x2="966.51" y2="28.4" stroke="#3a3a3a" stroke-width="1"/>
<line x1="973.91" y1="236.7" x2="973.91" y2="234.5" stroke="#3a3a3a" stroke-width="1"/>
<line x1="973.91" y1="26.2" x2="973.91" y2="28.4" stroke="#3a3a3a" stroke-width="1"/>
<line x1="979.96" y1="236.7" x2="979.96" y2="234.5" stroke="#3a3a3a" stroke-width="1"/>
<line x1="979.96" y1="26.2" x2="979.96" y2="28.4" stroke="#3a3a3a" stroke-width="1"/>
<line x1="985.07" y1="236.7" x2="985.07" y2="234.5" stroke="#3a3a3a" stroke-width="1"/>
<line x1="985.07" y1="26.2" x2="985.07" y2="28.4" stroke="#3a3a3a" stroke-width="1"/>
<line x1="989.50" y1="236.7" x2="989.50" y2="234.5" stroke="#3a3a3a" stroke-width="1"/>
<line x1="989.50" y1="26.2" x2="989.50" y2="28.4" stroke="#3a3a3a" stroke-width="1"/>
<line x1="993.41" y1="236.7" x2="993.41" y2="234.5" stroke="#3a3a3a" stroke-width="1"/>
<line x1="993.41" y1="26.2" x2="993.41" y2="28.4" stroke="#3a3a3a" stroke-width="1"/>
<rect x="691.4" y="26.2" width="305.50" height="210.50" fill="none" stroke="#3a3a3a" stroke-width="1.1"/>
<text x="685.4" y="30.7" font-size="12.5" font-weight="bold" text-anchor="end" textLength="14.6" lengthAdjust="spacingAndGlyphs" >10</text>
<text x="685.7" y="24.7" font-size="8" font-weight="bold" >1</text>
<text x="685.4" y="94.3" font-size="12.5" font-weight="bold" text-anchor="end" textLength="14.6" lengthAdjust="spacingAndGlyphs" >10</text>
<text x="685.7" y="88.3" font-size="8" font-weight="bold" >0</text>
<text x="681.8" y="157.9" font-size="12.5" font-weight="bold" text-anchor="end" textLength="14.6" lengthAdjust="spacingAndGlyphs" >10</text>
<text x="682.1" y="151.9" font-size="8" font-weight="bold" >-1</text>
<text x="681.8" y="221.5" font-size="12.5" font-weight="bold" text-anchor="end" textLength="14.6" lengthAdjust="spacingAndGlyphs" >10</text>
<text x="682.1" y="215.5" font-size="8" font-weight="bold" >-2</text>
<text x="696.9" y="250.9" font-size="12.5" font-weight="bold" text-anchor="middle" textLength="14.6" lengthAdjust="spacingAndGlyphs" >10</text>
<text x="704.4" y="246.3" font-size="8" font-weight="bold" >-2</text>
<text x="765.3" y="250.9" font-size="12.5" font-weight="bold" text-anchor="middle" textLength="14.6" lengthAdjust="spacingAndGlyphs" >10</text>
<text x="772.8" y="246.3" font-size="8" font-weight="bold" >-1</text>
<text x="841.6" y="250.9" font-size="12.5" font-weight="bold" text-anchor="middle" textLength="14.6" lengthAdjust="spacingAndGlyphs" >10</text>
<text x="849.1" y="246.3" font-size="8" font-weight="bold" >0</text>
<text x="918.0" y="250.9" font-size="12.5" font-weight="bold" text-anchor="middle" textLength="14.6" lengthAdjust="spacingAndGlyphs" >10</text>
<text x="925.5" y="246.3" font-size="8" font-weight="bold" >1</text>
<text x="994.4" y="250.9" font-size="12.5" font-weight="bold" text-anchor="middle" textLength="14.6" lengthAdjust="spacingAndGlyphs" >10</text>
<text x="1001.9" y="246.3" font-size="8" font-weight="bold" >2</text>
<text x="763.5" y="267.5" font-size="15.8" font-weight="bold" textLength="162.4" lengthAdjust="spacingAndGlyphs" >Self-healing Time (hr)</text>
<text x="666.0" y="250.2" font-size="15.8" font-weight="bold" textLength="222.2" lengthAdjust="spacingAndGlyphs" transform="rotate(-90 666.0 250.2)" >Ultimate Tensile Stress (MPa)</text>
<circle cx="761.7" cy="98.4" r="4.5" fill="#2a7be4"/>
<circle cx="761.9" cy="120.3" r="4.5" fill="#2a7be4"/>
<text x="725.1" y="91.9" font-size="11.4" font-weight="bold" textLength="124.5" lengthAdjust="spacingAndGlyphs" >This work (dehydrated)</text>
<text x="725.1" y="111.6" font-size="11.4" font-weight="bold" textLength="110.5" lengthAdjust="spacingAndGlyphs" >This work (hydrated)</text>
<circle cx="708.3" cy="140.8" r="2.9" fill="none" stroke="#000" stroke-width="1.5"/>
<circle cx="784.7" cy="152.9" r="2.9" fill="none" stroke="#000" stroke-width="1.5"/>
<circle cx="821.2" cy="133.5" r="2.9" fill="none" stroke="#000" stroke-width="1.5"/>
<circle cx="708.3" cy="201.3" r="2.9" fill="none" stroke="#000" stroke-width="1.5"/>
<circle cx="708.3" cy="231.0" r="2.9" fill="none" stroke="#000" stroke-width="1.5"/>
<circle cx="844.3" cy="174.1" r="2.9" fill="none" stroke="#000" stroke-width="1.5"/>
<circle cx="844.3" cy="198.5" r="2.9" fill="none" stroke="#000" stroke-width="1.5"/>
<circle cx="926.5" cy="134.9" r="2.9" fill="none" stroke="#000" stroke-width="1.5"/>
<circle cx="880.5" cy="142.5" r="2.9" fill="none" stroke="#000" stroke-width="1.5"/>
<circle cx="890.4" cy="146.7" r="2.9" fill="none" stroke="#000" stroke-width="1.5"/>
<polygon points="926.50,52.90 927.64,55.94 930.87,56.08 928.34,58.10 929.20,61.22 926.50,59.43 923.80,61.22 924.66,58.10 922.13,56.08 925.36,55.94" fill="#000"/>
<polygon points="949.80,56.80 950.94,59.84 954.17,59.98 951.64,62.00 952.50,65.12 949.80,63.33 947.10,65.12 947.96,62.00 945.43,59.98 948.66,59.84" fill="#000"/>
<polygon points="972.70,75.80 973.84,78.84 977.07,78.98 974.54,81.00 975.40,84.12 972.70,82.33 970.00,84.12 970.86,81.00 968.33,78.98 971.56,78.84" fill="#000"/>
<polygon points="949.80,98.60 950.94,101.64 954.17,101.78 951.64,103.80 952.50,106.92 949.80,105.13 947.10,106.92 947.96,103.80 945.43,101.78 948.66,101.64" fill="#000"/>
<polygon points="926.50,111.40 927.64,114.44 930.87,114.58 928.34,116.60 929.20,119.72 926.50,117.93 923.80,119.72 924.66,116.60 922.13,114.58 925.36,114.44" fill="#000"/>
<polygon points="949.80,115.80 950.94,118.84 954.17,118.98 951.64,121.00 952.50,124.12 949.80,122.33 947.10,124.12 947.96,121.00 945.43,118.98 948.66,118.84" fill="#000"/>
<polygon points="880.50,146.30 881.64,149.34 884.87,149.48 882.34,151.50 883.20,154.62 880.50,152.83 877.80,154.62 878.66,151.50 876.13,149.48 879.36,149.34" fill="#000"/>
<text x="703.2" y="155.6" font-size="11.3" fill="#111" textLength="71.2" lengthAdjust="spacingAndGlyphs" >Z. Wang 2022</text>
<text x="790.0" y="161.3" font-size="11.3" fill="#111" textLength="48.8" lengthAdjust="spacingAndGlyphs" >Guo 2020</text>
<text x="824.2" y="130.5" font-size="11.3" fill="#111" textLength="60.0" lengthAdjust="spacingAndGlyphs" >Q. Wu 2022</text>
<text x="782.4" y="146.5" font-size="11.3" fill="#111" textLength="92.5" lengthAdjust="spacingAndGlyphs" >Y. Wu 2021 (Adv.)</text>
<text x="711.7" y="199.5" font-size="11.3" fill="#111" textLength="41.0" lengthAdjust="spacingAndGlyphs" >Yu 2019</text>
<text x="712.8" y="223.0" font-size="11.3" fill="#111" textLength="33.0" lengthAdjust="spacingAndGlyphs" >Cheng</text>
<text x="717.0" y="234.4" font-size="11.3" fill="#111" textLength="25.5" lengthAdjust="spacingAndGlyphs" >2020</text>
<text x="848.2" y="183.3" font-size="11.3" fill="#111" textLength="65.5" lengthAdjust="spacingAndGlyphs" >Caprioli 2021</text>
<text x="848.2" y="197.1" font-size="11.3" fill="#111" textLength="74.8" lengthAdjust="spacingAndGlyphs" >W. Wang 2023</text>
<text x="891.1" y="53.3" font-size="11.3" fill="#111" textLength="36.1" lengthAdjust="spacingAndGlyphs" >Li 2019</text>
<text x="936.6" y="55.8" font-size="11.3" fill="#111" textLength="55.7" lengthAdjust="spacingAndGlyphs" >Gong 2018</text>
<text x="875.1" y="80.4" font-size="11.3" fill="#111" textLength="93.2" lengthAdjust="spacingAndGlyphs" >Durand-Silva 2021</text>
<text x="865.8" y="93.4" font-size="11.3" fill="#111" textLength="90.2" lengthAdjust="spacingAndGlyphs" >Wanasinghe 2023</text>
<text x="840.5" y="108.1" font-size="11.3" fill="#111" textLength="93.6" lengthAdjust="spacingAndGlyphs" >Y. Wu 2021 (ACS)</text>
<text x="930.2" y="132.0" font-size="11.3" fill="#111" textLength="63.4" lengthAdjust="spacingAndGlyphs" >Gomez 2021</text>
<text x="931.4" y="145.0" font-size="11.3" fill="#111" textLength="55.6" lengthAdjust="spacingAndGlyphs" >Mogli 2023</text>
<text x="894.5" y="154.0" font-size="11.3" fill="#111" textLength="42.0" lengthAdjust="spacingAndGlyphs" >Liu 2020</text>
<text x="884.7" y="165.6" font-size="11.3" fill="#111" textLength="46.7" lengthAdjust="spacingAndGlyphs" >Wei 2021</text>
<rect x="748.5" y="203.8" width="243.5" height="28.3" fill="#fff" stroke="#3a3a3a" stroke-width="1.1"/>
<circle cx="755.0" cy="209.7" r="2.9" fill="none" stroke="#000" stroke-width="1.5"/>
<polygon points="755.00,219.50 756.14,222.54 759.37,222.68 756.84,224.70 757.70,227.82 755.00,226.03 752.30,227.82 753.16,224.70 750.63,222.68 753.86,222.54" fill="#000"/>
<text x="759.9" y="214.5" font-size="13.9" font-weight="bold" textLength="230.8" lengthAdjust="spacingAndGlyphs" >Commercially available precursors</text>
<text x="759.9" y="228.7" font-size="13.9" font-weight="bold" textLength="119.9" lengthAdjust="spacingAndGlyphs" >Custom synthesis</text>
<text x="267.6" y="297.0" font-size="31" font-weight="bold" >d</text>
<defs><clipPath id="cdt"><rect x="312.5" y="306" width="207.1" height="107.2"/></clipPath><clipPath id="cdb"><rect x="312.5" y="418.4" width="207.1" height="106.8"/></clipPath></defs>
<g clip-path="url(#cdt)">
<path d="M312.60,411.00 C313.08,410.00 314.53,406.60 315.50,405.00 C316.47,403.40 316.98,403.07 318.40,401.40 C319.82,399.73 321.88,396.77 324.00,395.00 C326.12,393.23 326.40,392.55 331.10,390.80 C335.80,389.05 341.63,387.32 352.20,384.50 C362.77,381.68 380.42,378.13 394.50,373.90 C408.58,369.67 422.62,364.73 436.70,359.10 C450.78,353.47 468.45,345.45 479.00,340.10 C489.55,334.75 494.20,330.87 500.00,327.00 C505.80,323.13 511.50,318.58 513.80,316.90" fill="none" stroke="#2f7ee3" stroke-width="1.1" stroke-linecap="round" stroke-linejoin="round" />
<path d="M322.00,413.20 C323.17,412.92 326.78,412.60 329.00,411.50 C331.22,410.40 333.18,408.55 335.30,406.60 C337.42,404.65 338.88,402.00 341.70,399.80 C344.52,397.60 348.68,395.00 352.20,393.40 C355.72,391.80 352.23,393.38 362.80,390.20 C373.37,387.02 399.77,379.77 415.60,374.30 C431.43,368.83 443.73,364.08 457.80,357.40 C471.87,350.72 490.67,340.07 500.00,334.20 C509.33,328.33 511.50,324.20 513.80,322.20" fill="none" stroke="#2f7ee3" stroke-width="1.3" stroke-linecap="round" stroke-linejoin="round" />
<path d="M322.80,413.20 C324.03,412.92 327.92,412.60 330.20,411.50 C332.48,410.40 334.42,408.51 336.50,406.60 C338.58,404.69 339.91,402.20 342.66,400.04 C345.41,397.88 349.64,395.21 353.00,393.64 C356.36,392.07 352.37,393.74 362.80,390.60 C373.23,387.46 399.77,380.23 415.60,374.78 C431.43,369.33 443.73,364.56 457.80,357.88 C471.87,351.20 490.67,340.49 500.00,334.68 C509.33,328.87 511.50,324.95 513.80,323.00" fill="none" stroke="#2f7ee3" stroke-width="1.3" stroke-linecap="round" stroke-linejoin="round" />
<path d="M323.60,413.20 C324.90,412.92 329.05,412.60 331.40,411.50 C333.75,410.40 335.66,408.47 337.70,406.60 C339.74,404.73 340.94,402.40 343.62,400.28 C346.30,398.16 350.60,395.43 353.80,393.88 C357.00,392.33 352.50,394.10 362.80,391.00 C373.10,387.90 399.77,380.70 415.60,375.26 C431.43,369.82 443.73,365.04 457.80,358.36 C471.87,351.68 490.67,340.92 500.00,335.16 C509.33,329.40 511.50,325.69 513.80,323.80" fill="none" stroke="#2f7ee3" stroke-width="1.3" stroke-linecap="round" stroke-linejoin="round" />
<path d="M324.40,413.20 C325.77,412.92 330.18,412.60 332.60,411.50 C335.02,410.40 336.90,408.43 338.90,406.60 C340.90,404.77 341.96,402.60 344.58,400.52 C347.20,398.44 351.56,395.64 354.60,394.12 C357.64,392.60 352.63,394.46 362.80,391.40 C372.97,388.34 399.77,381.17 415.60,375.74 C431.43,370.31 443.73,365.52 457.80,358.84 C471.87,352.16 490.67,341.35 500.00,335.64 C509.33,329.93 511.50,326.44 513.80,324.60" fill="none" stroke="#2f7ee3" stroke-width="1.3" stroke-linecap="round" stroke-linejoin="round" />
<path d="M513.80,320.00 C512.57,322.30 510.45,329.03 506.40,333.80 C502.35,338.57 497.60,343.32 489.50,348.60 C481.40,353.88 470.12,359.52 457.80,365.50 C445.48,371.48 429.67,378.52 415.60,384.50 C401.53,390.48 383.50,397.23 373.40,401.40 C363.30,405.57 359.73,407.57 355.00,409.50 C350.27,411.43 346.67,412.42 345.00,413.00" fill="none" stroke="#2f7ee3" stroke-width="1.3" stroke-linecap="round" stroke-linejoin="round" />
<path d="M513.80,320.96 C512.57,323.18 510.45,329.61 506.40,334.28 C502.35,338.95 497.60,343.72 489.50,349.00 C481.40,354.28 470.12,359.98 457.80,365.98 C445.48,371.98 429.67,379.01 415.60,384.98 C401.53,390.95 383.30,397.71 373.40,401.80 C363.50,405.89 360.67,407.63 356.20,409.50 C351.73,411.37 348.20,412.42 346.60,413.00" fill="none" stroke="#2f7ee3" stroke-width="1.3" stroke-linecap="round" stroke-linejoin="round" />
<path d="M513.80,321.92 C512.57,324.06 510.45,330.18 506.40,334.76 C502.35,339.34 497.60,344.12 489.50,349.40 C481.40,354.68 470.12,360.45 457.80,366.46 C445.48,372.47 429.67,379.50 415.60,385.46 C401.53,391.42 383.10,398.19 373.40,402.20 C363.70,406.21 361.60,407.70 357.40,409.50 C353.20,411.30 349.73,412.42 348.20,413.00" fill="none" stroke="#2f7ee3" stroke-width="1.3" stroke-linecap="round" stroke-linejoin="round" />
<path d="M513.80,322.88 C512.57,324.94 510.45,330.75 506.40,335.24 C502.35,339.73 497.60,344.52 489.50,349.80 C481.40,355.08 470.12,360.92 457.80,366.94 C445.48,372.96 429.67,380.00 415.60,385.94 C401.53,391.88 382.90,398.67 373.40,402.60 C363.90,406.53 362.53,407.77 358.60,409.50 C354.67,411.23 351.27,412.42 349.80,413.00" fill="none" stroke="#2f7ee3" stroke-width="1.3" stroke-linecap="round" stroke-linejoin="round" />
</g>
<rect x="312.5" y="306.0" width="207.10" height="107.20" fill="none" stroke="#3a3a3a" stroke-width="1.1"/>
<line x1="312.5" y1="413.00" x2="316.0" y2="413.00" stroke="#3a3a3a" stroke-width="1"/>
<line x1="519.6" y1="413.00" x2="516.1" y2="413.00" stroke="#3a3a3a" stroke-width="1"/>
<line x1="312.5" y1="383.70" x2="316.0" y2="383.70" stroke="#3a3a3a" stroke-width="1"/>
<line x1="519.6" y1="383.70" x2="516.1" y2="383.70" stroke="#3a3a3a" stroke-width="1"/>
<line x1="312.5" y1="353.40" x2="316.0" y2="353.40" stroke="#3a3a3a" stroke-width="1"/>
<line x1="519.6" y1="353.40" x2="516.1" y2="353.40" stroke="#3a3a3a" stroke-width="1"/>
<line x1="312.5" y1="323.40" x2="316.0" y2="323.40" stroke="#3a3a3a" stroke-width="1"/>
<line x1="519.6" y1="323.40" x2="516.1" y2="323.40" stroke="#3a3a3a" stroke-width="1"/>
<line x1="357.62" y1="413.2" x2="357.62" y2="409.7" stroke="#3a3a3a" stroke-width="1"/>
<line x1="357.62" y1="306.0" x2="357.62" y2="309.5" stroke="#3a3a3a" stroke-width="1"/>
<line x1="402.73" y1="413.2" x2="402.73" y2="409.7" stroke="#3a3a3a" stroke-width="1"/>
<line x1="402.73" y1="306.0" x2="402.73" y2="309.5" stroke="#3a3a3a" stroke-width="1"/>
<line x1="447.85" y1="413.2" x2="447.85" y2="409.7" stroke="#3a3a3a" stroke-width="1"/>
<line x1="447.85" y1="306.0" x2="447.85" y2="309.5" stroke="#3a3a3a" stroke-width="1"/>
<line x1="492.96" y1="413.2" x2="492.96" y2="409.7" stroke="#3a3a3a" stroke-width="1"/>
<line x1="492.96" y1="306.0" x2="492.96" y2="309.5" stroke="#3a3a3a" stroke-width="1"/>
<rect x="316" y="312" width="96.6" height="28.5" fill="#fff" stroke="#3a3a3a" stroke-width="1.1"/>
<line x1="320" y1="319.2" x2="346" y2="319.2" stroke="#2f7ee3" stroke-width="3.2" stroke-linecap="round"/>
<line x1="320" y1="332.4" x2="346" y2="332.4" stroke="#4a3a9c" stroke-width="3.2" stroke-linecap="round"/>
<text x="349.5" y="323.3" font-size="10.5" font-weight="bold" textLength="46.0" lengthAdjust="spacingAndGlyphs" >Ambient</text>
<text x="349.5" y="336.5" font-size="10.5" font-weight="bold" textLength="62.0" lengthAdjust="spacingAndGlyphs" >Dehydrated</text>
<text x="309.3" y="327.6" font-size="13" font-weight="bold" text-anchor="end" textLength="27.3" lengthAdjust="spacingAndGlyphs" >0.15</text>
<text x="309.3" y="357.5" font-size="13" font-weight="bold" text-anchor="end" textLength="19.5" lengthAdjust="spacingAndGlyphs" >0.1</text>
<text x="309.3" y="387.8" font-size="13" font-weight="bold" text-anchor="end" textLength="27.3" lengthAdjust="spacingAndGlyphs" >0.05</text>
<text x="309.3" y="417.0" font-size="13" font-weight="bold" text-anchor="end" textLength="7.8" lengthAdjust="spacingAndGlyphs" >0</text>
<g clip-path="url(#cdb)">
<path d="M312.60,514.30 C313.40,513.23 315.72,511.43 317.40,507.90 C319.08,504.37 320.42,496.97 322.70,493.10 C324.98,489.23 326.18,487.15 331.10,484.70 C336.02,482.25 341.63,480.58 352.20,478.40 C362.77,476.22 380.42,474.07 394.50,471.60 C408.58,469.13 422.62,467.40 436.70,463.60 C450.78,459.80 467.12,453.98 479.00,448.80 C490.88,443.62 502.20,435.53 508.00,432.50 C513.80,429.47 513.13,430.02 513.80,430.60 C514.47,431.18 512.48,434.23 512.00,436.00 C511.52,437.77 512.20,437.43 510.90,441.20 C509.60,444.97 506.93,453.13 504.20,458.60 C501.47,464.07 498.37,469.18 494.50,474.00 C490.63,478.82 488.72,482.03 481.00,487.50 C473.28,492.97 460.10,501.02 448.20,506.80 C436.30,512.58 417.80,519.00 409.60,522.20 C401.40,525.40 400.77,525.37 399.00,526.00" fill="none" stroke="#4a3a9c" stroke-width="1.1" stroke-linecap="round" stroke-linejoin="round" />
<path d="M358.40,526.00 C359.43,524.22 362.35,518.32 364.60,515.30 C366.85,512.28 368.83,510.05 371.90,507.90 C374.97,505.75 371.65,505.67 383.00,502.40 C394.35,499.13 424.30,493.52 440.00,488.30 C455.70,483.08 465.87,476.37 477.20,471.10 C488.53,465.83 502.07,459.58 508.00,456.70 C513.93,453.82 512.30,453.45 512.80,453.80 C513.30,454.15 511.80,457.03 511.00,458.80 C510.20,460.57 510.42,460.58 508.00,464.40 C505.58,468.22 501.63,476.23 496.50,481.70 C491.37,487.17 486.85,491.73 477.20,497.20 C467.55,502.67 449.53,509.70 438.60,514.50 C427.67,519.30 416.10,524.08 411.60,526.00" fill="none" stroke="#4a3a9c" stroke-width="1.1" stroke-linecap="round" stroke-linejoin="round" />
<path d="M367.60,526.00 C368.63,524.22 371.55,518.15 373.80,515.30 C376.05,512.45 378.03,510.78 381.10,508.90 C384.17,507.03 382.38,506.89 392.20,504.07 C402.02,501.25 425.83,496.59 440.00,491.99 C454.17,487.38 465.87,481.28 477.20,476.46 C488.53,471.64 502.07,465.73 508.00,463.06 C513.93,460.40 512.30,460.09 512.80,460.50 C513.30,460.91 511.80,463.73 511.00,465.50 C510.20,467.27 510.42,467.62 508.00,471.10 C505.58,474.58 501.63,481.48 496.50,486.39 C491.37,491.30 486.85,495.53 477.20,500.55 C467.55,505.57 448.63,512.27 438.60,516.51 C428.57,520.75 420.60,524.42 417.00,526.00" fill="none" stroke="#4a3a9c" stroke-width="1.1" stroke-linecap="round" stroke-linejoin="round" />
<path d="M372.60,526.00 C373.63,524.22 376.55,518.06 378.80,515.30 C381.05,512.54 383.03,511.15 386.10,509.43 C389.17,507.70 388.22,507.54 397.20,504.95 C406.18,502.36 426.67,498.19 440.00,493.91 C453.33,489.63 465.87,483.85 477.20,479.26 C488.53,474.67 502.07,468.93 508.00,466.39 C513.93,463.85 512.30,463.56 512.80,464.00 C513.30,464.44 511.80,467.23 511.00,469.00 C510.20,470.77 510.42,471.29 508.00,474.60 C505.58,477.91 501.63,484.22 496.50,488.84 C491.37,493.46 486.85,497.51 477.20,502.30 C467.55,507.09 447.97,513.61 438.60,517.56 C429.23,521.51 423.93,524.59 421.00,526.00" fill="none" stroke="#4a3a9c" stroke-width="1.1" stroke-linecap="round" stroke-linejoin="round" />
<path d="M375.60,526.00 C376.63,524.22 379.55,517.98 381.80,515.30 C384.05,512.62 386.03,511.51 389.10,509.92 C392.17,508.34 391.72,508.14 400.20,505.77 C408.68,503.41 427.17,499.70 440.00,495.73 C452.83,491.75 465.87,486.27 477.20,481.90 C488.53,477.53 502.07,471.96 508.00,469.52 C513.93,467.09 512.30,466.84 512.80,467.30 C513.30,467.76 511.80,470.53 511.00,472.30 C510.20,474.07 510.42,474.76 508.00,477.90 C505.58,481.04 501.63,486.81 496.50,491.15 C491.37,495.49 486.85,499.38 477.20,503.95 C467.55,508.52 447.47,514.88 438.60,518.55 C429.73,522.22 426.43,524.76 424.00,526.00" fill="none" stroke="#4a3a9c" stroke-width="1.1" stroke-linecap="round" stroke-linejoin="round" />
<path d="M378.00,526.00 C379.03,524.22 381.95,517.92 384.20,515.30 C386.45,512.68 388.43,511.75 391.50,510.25 C394.57,508.76 394.52,508.54 402.60,506.32 C410.68,504.11 427.57,500.71 440.00,496.94 C452.43,493.16 465.87,487.88 477.20,483.66 C488.53,479.44 502.07,473.97 508.00,471.61 C513.93,469.25 512.30,469.02 512.80,469.50 C513.30,469.98 511.80,472.73 511.00,474.50 C510.20,476.27 510.42,477.07 508.00,480.10 C505.58,483.13 501.63,488.53 496.50,492.69 C491.37,496.85 486.85,500.63 477.20,505.05 C467.55,509.47 446.97,515.72 438.60,519.21 C430.23,522.70 428.93,524.87 427.00,526.00" fill="none" stroke="#4a3a9c" stroke-width="1.1" stroke-linecap="round" stroke-linejoin="round" />
</g>
<rect x="312.5" y="418.4" width="207.10" height="106.80" fill="none" stroke="#3a3a3a" stroke-width="1.1"/>
<line x1="312.5" y1="525.30" x2="316.0" y2="525.30" stroke="#3a3a3a" stroke-width="1"/>
<line x1="519.6" y1="525.30" x2="516.1" y2="525.30" stroke="#3a3a3a" stroke-width="1"/>
<line x1="312.5" y1="494.20" x2="316.0" y2="494.20" stroke="#3a3a3a" stroke-width="1"/>
<line x1="519.6" y1="494.20" x2="516.1" y2="494.20" stroke="#3a3a3a" stroke-width="1"/>
<line x1="312.5" y1="462.80" x2="316.0" y2="462.80" stroke="#3a3a3a" stroke-width="1"/>
<line x1="519.6" y1="462.80" x2="516.1" y2="462.80" stroke="#3a3a3a" stroke-width="1"/>
<line x1="312.5" y1="431.60" x2="316.0" y2="431.60" stroke="#3a3a3a" stroke-width="1"/>
<line x1="519.6" y1="431.60" x2="516.1" y2="431.60" stroke="#3a3a3a" stroke-width="1"/>
<line x1="357.62" y1="525.2" x2="357.62" y2="521.7" stroke="#3a3a3a" stroke-width="1"/>
<line x1="357.62" y1="418.4" x2="357.62" y2="421.9" stroke="#3a3a3a" stroke-width="1"/>
<line x1="402.73" y1="525.2" x2="402.73" y2="521.7" stroke="#3a3a3a" stroke-width="1"/>
<line x1="402.73" y1="418.4" x2="402.73" y2="421.9" stroke="#3a3a3a" stroke-width="1"/>
<line x1="447.85" y1="525.2" x2="447.85" y2="521.7" stroke="#3a3a3a" stroke-width="1"/>
<line x1="447.85" y1="418.4" x2="447.85" y2="421.9" stroke="#3a3a3a" stroke-width="1"/>
<line x1="492.96" y1="525.2" x2="492.96" y2="521.7" stroke="#3a3a3a" stroke-width="1"/>
<line x1="492.96" y1="418.4" x2="492.96" y2="421.9" stroke="#3a3a3a" stroke-width="1"/>
<text x="308.8" y="436.2" font-size="13" font-weight="bold" text-anchor="end" textLength="27.3" lengthAdjust="spacingAndGlyphs" >0.75</text>
<text x="308.8" y="466.9" font-size="13" font-weight="bold" text-anchor="end" textLength="19.5" lengthAdjust="spacingAndGlyphs" >0.5</text>
<text x="308.8" y="497.0" font-size="13" font-weight="bold" text-anchor="end" textLength="27.3" lengthAdjust="spacingAndGlyphs" >0.25</text>
<text x="308.8" y="524.9" font-size="13" font-weight="bold" text-anchor="end" textLength="7.8" lengthAdjust="spacingAndGlyphs" >0</text>
<text x="314.0" y="539.3" font-size="12.5" font-weight="bold" text-anchor="middle" textLength="7.5" lengthAdjust="spacingAndGlyphs" >0</text>
<text x="359.1" y="539.3" font-size="12.5" font-weight="bold" text-anchor="middle" textLength="15.5" lengthAdjust="spacingAndGlyphs" >50</text>
<text x="404.2" y="539.3" font-size="12.5" font-weight="bold" text-anchor="middle" textLength="23.6" lengthAdjust="spacingAndGlyphs" >100</text>
<text x="449.3" y="539.3" font-size="12.5" font-weight="bold" text-anchor="middle" textLength="23.6" lengthAdjust="spacingAndGlyphs" >150</text>
<text x="494.5" y="539.3" font-size="12.5" font-weight="bold" text-anchor="middle" textLength="23.6" lengthAdjust="spacingAndGlyphs" >200</text>
<text x="331.1" y="556.5" font-size="15.8" font-weight="bold" textLength="170.5" lengthAdjust="spacingAndGlyphs" >Engineering Strain (%)</text>
<text x="276.6" y="513.5" font-size="15.8" font-weight="bold" textLength="191.7" lengthAdjust="spacingAndGlyphs" transform="rotate(-90 276.6 513.5)" >Engineering Stress (MPa)</text>
<text x="536.0" y="294.1" font-size="31" font-weight="bold" >e</text>
<line x1="569.6" y1="526.20" x2="573.1" y2="526.20" stroke="#3a3a3a" stroke-width="1"/>
<line x1="569.6" y1="494.77" x2="573.1" y2="494.77" stroke="#3a3a3a" stroke-width="1"/>
<line x1="569.6" y1="463.34" x2="573.1" y2="463.34" stroke="#3a3a3a" stroke-width="1"/>
<line x1="569.6" y1="431.91" x2="573.1" y2="431.91" stroke="#3a3a3a" stroke-width="1"/>
<line x1="569.6" y1="400.48" x2="573.1" y2="400.48" stroke="#3a3a3a" stroke-width="1"/>
<line x1="569.6" y1="369.05" x2="573.1" y2="369.05" stroke="#3a3a3a" stroke-width="1"/>
<line x1="569.6" y1="337.62" x2="573.1" y2="337.62" stroke="#3a3a3a" stroke-width="1"/>
<line x1="569.6" y1="306.19" x2="573.1" y2="306.19" stroke="#3a3a3a" stroke-width="1"/>
<line x1="734.2" y1="526.20" x2="730.7" y2="526.20" stroke="#2f7fd6" stroke-width="1"/>
<line x1="734.2" y1="504.20" x2="730.7" y2="504.20" stroke="#2f7fd6" stroke-width="1"/>
<line x1="734.2" y1="482.20" x2="730.7" y2="482.20" stroke="#2f7fd6" stroke-width="1"/>
<line x1="734.2" y1="460.20" x2="730.7" y2="460.20" stroke="#2f7fd6" stroke-width="1"/>
<line x1="734.2" y1="438.20" x2="730.7" y2="438.20" stroke="#2f7fd6" stroke-width="1"/>
<line x1="734.2" y1="416.20" x2="730.7" y2="416.20" stroke="#2f7fd6" stroke-width="1"/>
<line x1="734.2" y1="394.20" x2="730.7" y2="394.20" stroke="#2f7fd6" stroke-width="1"/>
<line x1="734.2" y1="372.20" x2="730.7" y2="372.20" stroke="#2f7fd6" stroke-width="1"/>
<line x1="734.2" y1="350.20" x2="730.7" y2="350.20" stroke="#2f7fd6" stroke-width="1"/>
<line x1="734.2" y1="328.20" x2="730.7" y2="328.20" stroke="#2f7fd6" stroke-width="1"/>
<line x1="734.2" y1="306.20" x2="730.7" y2="306.20" stroke="#2f7fd6" stroke-width="1"/>
<line x1="569.60" y1="526.2" x2="569.60" y2="522.7" stroke="#3a3a3a" stroke-width="1"/>
<line x1="569.60" y1="306.2" x2="569.60" y2="309.7" stroke="#3a3a3a" stroke-width="1"/>
<line x1="614.10" y1="526.2" x2="614.10" y2="522.7" stroke="#3a3a3a" stroke-width="1"/>
<line x1="614.10" y1="306.2" x2="614.10" y2="309.7" stroke="#3a3a3a" stroke-width="1"/>
<line x1="658.60" y1="526.2" x2="658.60" y2="522.7" stroke="#3a3a3a" stroke-width="1"/>
<line x1="658.60" y1="306.2" x2="658.60" y2="309.7" stroke="#3a3a3a" stroke-width="1"/>
<line x1="703.10" y1="526.2" x2="703.10" y2="522.7" stroke="#3a3a3a" stroke-width="1"/>
<line x1="703.10" y1="306.2" x2="703.10" y2="309.7" stroke="#3a3a3a" stroke-width="1"/>
<line x1="569.6" y1="306.2" x2="734.2" y2="306.2" stroke="#3a3a3a" stroke-width="1.1"/>
<line x1="569.6" y1="526.2" x2="734.2" y2="526.2" stroke="#3a3a3a" stroke-width="1.1"/>
<line x1="569.6" y1="306.2" x2="569.6" y2="526.2" stroke="#3a3a3a" stroke-width="1.1"/>
<line x1="734.2" y1="306.2" x2="734.2" y2="526.2" stroke="#2f7fd6" stroke-width="1.1"/>
<text x="566.5" y="315.1" font-size="13" font-weight="bold" text-anchor="end" textLength="8.1" lengthAdjust="spacingAndGlyphs" >5</text>
<text x="566.5" y="342.4" font-size="13" font-weight="bold" text-anchor="end" textLength="20.2" lengthAdjust="spacingAndGlyphs" >4.5</text>
<text x="566.5" y="373.9" font-size="13" font-weight="bold" text-anchor="end" textLength="8.1" lengthAdjust="spacingAndGlyphs" >4</text>
<text x="566.5" y="405.3" font-size="13" font-weight="bold" text-anchor="end" textLength="20.2" lengthAdjust="spacingAndGlyphs" >3.5</text>
<text x="566.5" y="436.7" font-size="13" font-weight="bold" text-anchor="end" textLength="8.1" lengthAdjust="spacingAndGlyphs" >3</text>
<text x="566.5" y="468.1" font-size="13" font-weight="bold" text-anchor="end" textLength="20.2" lengthAdjust="spacingAndGlyphs" >2.5</text>
<text x="566.5" y="499.6" font-size="13" font-weight="bold" text-anchor="end" textLength="8.1" lengthAdjust="spacingAndGlyphs" >2</text>
<text x="566.5" y="527.5" font-size="13" font-weight="bold" text-anchor="end" textLength="20.2" lengthAdjust="spacingAndGlyphs" >1.5</text>
<text x="738.8" y="529.0" font-size="13" font-weight="bold" fill="#2f7fd6" textLength="8.1" lengthAdjust="spacingAndGlyphs" >0</text>
<text x="738.8" y="509.0" font-size="13" font-weight="bold" fill="#2f7fd6" textLength="16.2" lengthAdjust="spacingAndGlyphs" >10</text>
<text x="738.8" y="487.0" font-size="13" font-weight="bold" fill="#2f7fd6" textLength="16.2" lengthAdjust="spacingAndGlyphs" >20</text>
<text x="738.8" y="465.0" font-size="13" font-weight="bold" fill="#2f7fd6" textLength="16.2" lengthAdjust="spacingAndGlyphs" >30</text>
<text x="738.8" y="443.0" font-size="13" font-weight="bold" fill="#2f7fd6" textLength="16.2" lengthAdjust="spacingAndGlyphs" >40</text>
<text x="738.8" y="421.0" font-size="13" font-weight="bold" fill="#2f7fd6" textLength="16.2" lengthAdjust="spacingAndGlyphs" >50</text>
<text x="738.8" y="399.0" font-size="13" font-weight="bold" fill="#2f7fd6" textLength="16.2" lengthAdjust="spacingAndGlyphs" >60</text>
<text x="738.8" y="377.0" font-size="13" font-weight="bold" fill="#2f7fd6" textLength="16.2" lengthAdjust="spacingAndGlyphs" >70</text>
<text x="738.8" y="355.0" font-size="13" font-weight="bold" fill="#2f7fd6" textLength="16.2" lengthAdjust="spacingAndGlyphs" >80</text>
<text x="738.8" y="333.0" font-size="13" font-weight="bold" fill="#2f7fd6" textLength="16.2" lengthAdjust="spacingAndGlyphs" >90</text>
<text x="738.8" y="313.3" font-size="13" font-weight="bold" fill="#2f7fd6" textLength="24.3" lengthAdjust="spacingAndGlyphs" >100</text>
<text x="571.4" y="539.1" font-size="13" font-weight="bold" text-anchor="middle" textLength="8.1" lengthAdjust="spacingAndGlyphs" >0</text>
<text x="614.4" y="539.1" font-size="13" font-weight="bold" text-anchor="middle" textLength="16.2" lengthAdjust="spacingAndGlyphs" >10</text>
<text x="658.9" y="539.1" font-size="13" font-weight="bold" text-anchor="middle" textLength="16.2" lengthAdjust="spacingAndGlyphs" >20</text>
<text x="703.4" y="539.1" font-size="13" font-weight="bold" text-anchor="middle" textLength="16.2" lengthAdjust="spacingAndGlyphs" >30</text>
<text x="569.6" y="303.8" font-size="12.5" font-weight="bold" textLength="21.2" lengthAdjust="spacingAndGlyphs" >×10</text>
<text x="592.6" y="299.4" font-size="7.5" font-weight="bold" >5</text>
<text x="621.0" y="556.2" font-size="15.8" font-weight="bold" textLength="66.3" lengthAdjust="spacingAndGlyphs" >Time (hr)</text>
<text x="544.0" y="538.0" font-size="15.8" font-weight="bold" textLength="232.2" lengthAdjust="spacingAndGlyphs" transform="rotate(-90 544.0 538.0)" >Complex Shear Modulus (MPa)</text>
<text x="769.5" y="497.6" font-size="15.8" font-weight="bold" fill="#2f7fd6" textLength="162.0" lengthAdjust="spacingAndGlyphs" transform="rotate(-90 769.5 497.6)" >Relative Humidity (%)</text>
<polyline points="569.8,504.4 575,504.4 693.2,327.4 733,327.4" fill="none" stroke="#2f7fd6" stroke-width="3.3" stroke-linejoin="round"/>
<path d="M569.90,391.00 C569.95,388.33 570.07,380.17 570.20,375.00 C570.33,369.83 570.40,364.67 570.70,360.00 C571.00,355.33 571.32,350.45 572.00,347.00 C572.68,343.55 573.63,341.20 574.80,339.30 C575.97,337.40 576.88,336.48 579.00,335.60 C581.12,334.72 584.68,334.07 587.50,334.00 C590.32,333.93 592.63,334.10 595.90,335.20 C599.17,336.30 602.88,337.98 607.10,340.60 C611.32,343.22 615.72,346.57 621.20,350.90 C626.68,355.23 634.23,361.45 640.00,366.60 C645.77,371.75 650.53,376.43 655.80,381.80 C661.07,387.17 667.22,393.72 671.60,398.80 C675.98,403.88 678.37,406.93 682.10,412.30 C685.83,417.67 690.05,424.22 694.00,431.00 C697.95,437.78 701.63,445.25 705.80,453.00 C709.97,460.75 714.62,469.32 719.00,477.50 C723.38,485.68 729.92,498.00 732.10,502.10" fill="none" stroke="#000" stroke-width="3" stroke-linejoin="round" stroke-linecap="round"/>
<text x="779.5" y="296.7" font-size="31" font-weight="bold" >f</text>
<rect x="840.5" y="417.8" width="29.6" height="108.5" fill="#2a7aea" stroke="#1d4f8f" stroke-width="0.9"/>
<rect x="876.4" y="384.9" width="29.6" height="141.4" fill="#2a7aea" stroke="#1d4f8f" stroke-width="0.9"/>
<rect x="912.3" y="354.1" width="29.6" height="172.2" fill="#2a7aea" stroke="#1d4f8f" stroke-width="0.9"/>
<rect x="948.2" y="338.7" width="29.6" height="187.6" fill="#2a7aea" stroke="#1d4f8f" stroke-width="0.9"/>
<line x1="855.3" y1="386.3" x2="855.3" y2="448.6" stroke="#111" stroke-width="2"/>
<line x1="851.8" y1="386.3" x2="858.8" y2="386.3" stroke="#111" stroke-width="2"/>
<line x1="851.8" y1="448.6" x2="858.8" y2="448.6" stroke="#111" stroke-width="2"/>
<line x1="891.2" y1="350.1" x2="891.2" y2="419.8" stroke="#111" stroke-width="2"/>
<line x1="887.7" y1="350.1" x2="894.7" y2="350.1" stroke="#111" stroke-width="2"/>
<line x1="887.7" y1="419.8" x2="894.7" y2="419.8" stroke="#111" stroke-width="2"/>
<line x1="927.1" y1="335.3" x2="927.1" y2="372.2" stroke="#111" stroke-width="2"/>
<line x1="923.6" y1="335.3" x2="930.6" y2="335.3" stroke="#111" stroke-width="2"/>
<line x1="923.6" y1="372.2" x2="930.6" y2="372.2" stroke="#111" stroke-width="2"/>
<line x1="963.0" y1="315.9" x2="963.0" y2="362.1" stroke="#111" stroke-width="2"/>
<line x1="959.5" y1="315.9" x2="966.5" y2="315.9" stroke="#111" stroke-width="2"/>
<line x1="959.5" y1="362.1" x2="966.5" y2="362.1" stroke="#111" stroke-width="2"/>
<line x1="811.4" y1="526.30" x2="814.9" y2="526.30" stroke="#3a3a3a" stroke-width="1"/>
<line x1="1006.3" y1="526.30" x2="1002.8" y2="526.30" stroke="#3a3a3a" stroke-width="1"/>
<line x1="811.4" y1="499.50" x2="814.9" y2="499.50" stroke="#3a3a3a" stroke-width="1"/>
<line x1="1006.3" y1="499.50" x2="1002.8" y2="499.50" stroke="#3a3a3a" stroke-width="1"/>
<line x1="811.4" y1="472.70" x2="814.9" y2="472.70" stroke="#3a3a3a" stroke-width="1"/>
<line x1="1006.3" y1="472.70" x2="1002.8" y2="472.70" stroke="#3a3a3a" stroke-width="1"/>
<line x1="811.4" y1="445.90" x2="814.9" y2="445.90" stroke="#3a3a3a" stroke-width="1"/>
<line x1="1006.3" y1="445.90" x2="1002.8" y2="445.90" stroke="#3a3a3a" stroke-width="1"/>
<line x1="811.4" y1="419.10" x2="814.9" y2="419.10" stroke="#3a3a3a" stroke-width="1"/>
<line x1="1006.3" y1="419.10" x2="1002.8" y2="419.10" stroke="#3a3a3a" stroke-width="1"/>
<line x1="811.4" y1="392.30" x2="814.9" y2="392.30" stroke="#3a3a3a" stroke-width="1"/>
<line x1="1006.3" y1="392.30" x2="1002.8" y2="392.30" stroke="#3a3a3a" stroke-width="1"/>
<line x1="811.4" y1="365.50" x2="814.9" y2="365.50" stroke="#3a3a3a" stroke-width="1"/>
<line x1="1006.3" y1="365.50" x2="1002.8" y2="365.50" stroke="#3a3a3a" stroke-width="1"/>
<line x1="811.4" y1="338.70" x2="814.9" y2="338.70" stroke="#3a3a3a" stroke-width="1"/>
<line x1="1006.3" y1="338.70" x2="1002.8" y2="338.70" stroke="#3a3a3a" stroke-width="1"/>
<line x1="811.4" y1="311.90" x2="814.9" y2="311.90" stroke="#3a3a3a" stroke-width="1"/>
<line x1="1006.3" y1="311.90" x2="1002.8" y2="311.90" stroke="#3a3a3a" stroke-width="1"/>
<line x1="855.30" y1="526.3" x2="855.30" y2="522.8" stroke="#3a3a3a" stroke-width="1"/>
<line x1="855.30" y1="305.4" x2="855.30" y2="308.9" stroke="#3a3a3a" stroke-width="1"/>
<line x1="891.20" y1="526.3" x2="891.20" y2="522.8" stroke="#3a3a3a" stroke-width="1"/>
<line x1="891.20" y1="305.4" x2="891.20" y2="308.9" stroke="#3a3a3a" stroke-width="1"/>
<line x1="927.10" y1="526.3" x2="927.10" y2="522.8" stroke="#3a3a3a" stroke-width="1"/>
<line x1="927.10" y1="305.4" x2="927.10" y2="308.9" stroke="#3a3a3a" stroke-width="1"/>
<line x1="963.00" y1="526.3" x2="963.00" y2="522.8" stroke="#3a3a3a" stroke-width="1"/>
<line x1="963.00" y1="305.4" x2="963.00" y2="308.9" stroke="#3a3a3a" stroke-width="1"/>
<rect x="811.4" y="305.4" width="194.90" height="220.90" fill="none" stroke="#3a3a3a" stroke-width="1.1"/>
<g opacity="0.8">
<path d="M847,516 H868.5 M857.7,513.5 V519 M849.5,533 V520.5 H866.3 V533 M853,522.5 L855,525 M862.5,522.5 L860.5,525 M851.5,526.5 H864.5 M857.7,525 V533" fill="none" stroke="#ffffff" stroke-width="2.6" stroke-linecap="butt"/>
<path d="M876.5,518.5 H884 M880.2,514 V533 M880,519 L876.5,527 M880.5,520 L884,524 M884,516 H892.5 L889.5,522 H893 L886,533 M887.5,516 L886.5,526 L883,533 M888,524 L893,533" fill="none" stroke="#ffffff" stroke-width="2.6" stroke-linecap="butt"/>
<path d="M896,516 L901,515 L903,519 M895,520.5 H905 M896,520.5 V533 M904,520.5 V533 M896,525 H904 M908,514 V521 Q908,523 915.5,522.5 M908,525 V531 Q908,533 915.5,532.5 M914,515.5 L909.5,518 M914,526.5 L909.5,529" fill="none" stroke="#ffffff" stroke-width="2.6" stroke-linecap="butt"/>
<text x="920" y="530" font-size="22" font-weight="bold" fill="#ffffff" textLength="31" lengthAdjust="spacingAndGlyphs">3D</text>
<path d="M950.5,520 H957.5 M954.5,514 V533 M950.5,528 L957.5,524 M958.5,517.5 H970 M965,517.5 V533" fill="none" stroke="#ffffff" stroke-width="2.6" stroke-linecap="butt"/>
<path d="M972.5,516 L980,514.5 M973.5,516 V530 L980,528 M973.5,522 H980 M983,516.5 H992 V528 M983,516.5 V533" fill="none" stroke="#ffffff" stroke-width="2.6" stroke-linecap="butt"/>
</g>
<text x="808.1" y="526.0" font-size="13.5" font-weight="bold" text-anchor="end" textLength="7.8" lengthAdjust="spacingAndGlyphs" >0</text>
<text x="808.1" y="504.3" font-size="13.5" font-weight="bold" text-anchor="end" textLength="7.8" lengthAdjust="spacingAndGlyphs" >2</text>
<text x="808.1" y="477.5" font-size="13.5" font-weight="bold" text-anchor="end" textLength="7.8" lengthAdjust="spacingAndGlyphs" >4</text>
<text x="808.1" y="450.7" font-size="13.5" font-weight="bold" text-anchor="end" textLength="7.8" lengthAdjust="spacingAndGlyphs" >6</text>
<text x="808.1" y="423.9" font-size="13.5" font-weight="bold" text-anchor="end" textLength="7.8" lengthAdjust="spacingAndGlyphs" >8</text>
<text x="808.1" y="397.1" font-size="13.5" font-weight="bold" text-anchor="end" textLength="15.6" lengthAdjust="spacingAndGlyphs" >10</text>
<text x="808.1" y="370.3" font-size="13.5" font-weight="bold" text-anchor="end" textLength="15.6" lengthAdjust="spacingAndGlyphs" >12</text>
<text x="808.1" y="343.5" font-size="13.5" font-weight="bold" text-anchor="end" textLength="15.6" lengthAdjust="spacingAndGlyphs" >14</text>
<text x="808.1" y="316.7" font-size="13.5" font-weight="bold" text-anchor="end" textLength="15.6" lengthAdjust="spacingAndGlyphs" >16</text>
<text x="854.3" y="540.0" font-size="13.5" text-anchor="middle" >1</text>
<text x="890.2" y="540.0" font-size="13.5" text-anchor="middle" >2</text>
<text x="926.1" y="540.0" font-size="13.5" text-anchor="middle" >3</text>
<text x="962.0" y="540.0" font-size="13.5" text-anchor="middle" >4</text>
<text x="800.3" y="556.0" font-size="15.8" font-weight="bold" textLength="210.5" lengthAdjust="spacingAndGlyphs" >Repeated Self-healing Cycle</text>
<text x="787.5" y="546.8" font-size="15.8" font-weight="bold" textLength="246.5" lengthAdjust="spacingAndGlyphs" transform="rotate(-90 787.5 546.8)" >Tensile strength degradation (%)</text>
</svg></body></html>
